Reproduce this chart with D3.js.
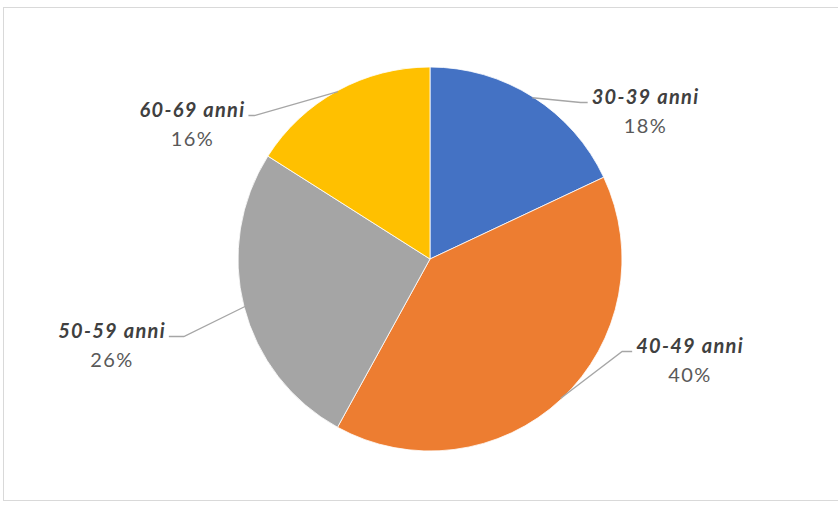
<!DOCTYPE html>
<html>
<head>
<meta charset="utf-8">
<script src="https://cdn.jsdelivr.net/npm/d3@7"></script>
<style>
  html, body { margin: 0; padding: 0; background: #ffffff; }
  svg { display: block; }
</style>
</head>
<body>
<svg id="chart" width="838" height="506"></svg>
<script>
// ---- data ----
const categories = ["30-39 anni", "40-49 anni", "50-59 anni", "60-69 anni"];
const values = [18, 40, 26, 16];
const percentLabels = ["18%", "40%", "26%", "16%"];
const colors = ["#4472C4", "#ED7D31", "#A5A5A5", "#FFC000"];

// ---- layout (label block anchor relative to pie centre, side of leader) ----
const labelOffsets = [[215.5, -147], [260, 102], [-318, 87], [-237.5, -134]];
const labelSide = ["left", "left", "right", "right"];
const elbowLen = [7, 10, 15, 6];

const cx = 430, cy = 259, R = 192;

const svg = d3.select("#chart");

// frame
svg.append("rect")
  .attr("x", 3.5).attr("y", 7.5)
  .attr("width", 850).attr("height", 493)
  .attr("fill", "#ffffff")
  .attr("stroke", "#d9d9d9").attr("stroke-width", 1);

const g = svg.append("g").attr("transform", `translate(${cx},${cy})`);

const pie = d3.pie().sort(null).value(d => d.v);
const data = categories.map((c, i) => ({ c, v: values[i], p: percentLabels[i], col: colors[i], i }));
const arcs = pie(data);

const arc = d3.arc().innerRadius(0).outerRadius(R);
const edgeArc = d3.arc().innerRadius(R - 1).outerRadius(R - 1);

g.selectAll("path.slice")
  .data(arcs)
  .enter().append("path")
  .attr("class", "slice")
  .attr("d", arc)
  .attr("fill", d => d.data.col)
  .attr("stroke", "#ffffff")
  .attr("stroke-width", 0.8);

const fontFam = "Lato, 'Open Sans', sans-serif";

arcs.forEach((a, i) => {
  const [lx, ly] = labelOffsets[i];
  const base1 = ly - 8, base2 = ly + 21;
  const t1 = g.append("text")
    .attr("x", lx).attr("y", base1)
    .attr("text-anchor", "middle")
    .attr("font-family", fontFam)
    .attr("font-size", 20)
    .attr("font-weight", "bold")
    .attr("font-style", "italic")
    .attr("letter-spacing", "1.3px")
    .attr("fill", "#404040")
    .text(a.data.c);
  g.append("text")
    .attr("x", lx).attr("y", base2)
    .attr("text-anchor", "middle")
    .attr("font-family", fontFam)
    .attr("font-size", 20)
    .attr("letter-spacing", "1.5px")
    .attr("fill", "#595959")
    .text(a.data.p);

  const bb = t1.node().getBBox();
  const start = edgeArc.centroid(a);
  const yLine = base1 - 1.5;
  let endX, elbowX;
  if (labelSide[i] === "left") {
    endX = bb.x - 4;
    elbowX = endX - elbowLen[i];
  } else {
    endX = bb.x + bb.width + 3;
    elbowX = endX + elbowLen[i];
  }
  g.append("polyline")
    .attr("points", [[start[0], start[1]], [elbowX, yLine], [endX, yLine]].map(p => p.join(",")).join(" "))
    .attr("fill", "none")
    .attr("stroke", "#a6a6a6")
    .attr("stroke-width", 1.3);
});
</script>
</body>
</html>
